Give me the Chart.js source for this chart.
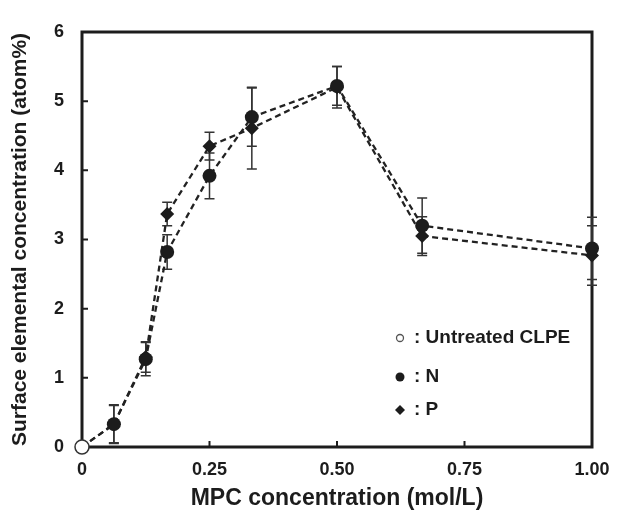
<!DOCTYPE html>
<html>
<head>
<meta charset="utf-8">
<script src="https://cdn.jsdelivr.net/npm/chart.js@4.4.1/dist/chart.umd.min.js"></script>
<style>
  body { margin: 0; background: #fff; }
  #wrap { width: 617px; height: 519px; }
</style>
</head>
<body>
<div id="wrap"><canvas id="chart" width="617" height="519"></canvas></div>
<script>
// Data
var untreatedX = [0];
var untreatedY = [0];
var mpcConc = [0.0625, 0.125, 0.167, 0.25, 0.333, 0.5, 0.667, 1.0];
var nValues = [0.33, 1.27, 2.82, 3.92, 4.77, 5.22, 3.20, 2.87];
var nErrors = [0.28, 0.24, 0.25, 0.33, 0.42, 0.28, 0.40, 0.45];
var pValues = [0.33, 1.30, 3.37, 4.35, 4.61, 5.20, 3.05, 2.77];
var pErrors = [0.27, 0.22, 0.17, 0.20, 0.59, 0.30, 0.28, 0.43];
var xTicks = [0, 0.25, 0.5, 0.75, 1.0];
var yTicks = [0, 1, 2, 3, 4, 5, 6];

var INK = '#1c1c1c';
var FONT = "'Liberation Sans', Arial, sans-serif";

function toPoints(xs, ys) {
    var pts = [];
    for (var i = 0; i < xs.length; i++) pts.push({ x: xs[i], y: ys[i] });
    return pts;
}

// series start from the untreated sample at the origin
var nData = toPoints(untreatedX.concat(mpcConc), untreatedY.concat(nValues));
var pData = toPoints(untreatedX.concat(mpcConc), untreatedY.concat(pValues));

function hideFirst(size) {
    return function(ctx) { return ctx.dataIndex === 0 ? 0 : size; };
}

// frame, inward ticks, error bars (under the marks) and legend
var extrasPlugin = {
    id: 'extras',
    beforeDatasetsDraw: function(chart) {
        var ctx = chart.ctx;
        var a = chart.chartArea;
        var xs = chart.scales.x, ys = chart.scales.y;
        ctx.save();
        ctx.strokeStyle = INK;
        ctx.lineWidth = 3;
        ctx.beginPath();
        ctx.moveTo(a.left, a.bottom);
        ctx.lineTo(a.left, a.top);
        ctx.lineTo(a.right, a.top);
        ctx.lineTo(a.right, a.bottom);
        ctx.closePath();
        ctx.stroke();
        ctx.lineWidth = 2;
        ctx.beginPath();
        xTicks.slice(1, -1).forEach(function(v) {
            var px = xs.getPixelForValue(v);
            ctx.moveTo(px, a.bottom); ctx.lineTo(px, a.bottom - 6);
        });
        yTicks.slice(1, -1).forEach(function(v) {
            var py = ys.getPixelForValue(v);
            ctx.moveTo(a.left, py); ctx.lineTo(a.left + 6, py);
        });
        ctx.stroke();

        ctx.strokeStyle = '#333';
        ctx.lineWidth = 1.5;
        [[nValues, nErrors], [pValues, pErrors]].forEach(function(s) {
            for (var i = 0; i < mpcConc.length; i++) {
                var px = xs.getPixelForValue(mpcConc[i]);
                var top = ys.getPixelForValue(s[0][i] + s[1][i]);
                var bot = ys.getPixelForValue(s[0][i] - s[1][i]);
                ctx.beginPath();
                ctx.moveTo(px, top); ctx.lineTo(px, bot);
                ctx.moveTo(px - 5, top); ctx.lineTo(px + 5, top);
                ctx.moveTo(px - 5, bot); ctx.lineTo(px + 5, bot);
                ctx.stroke();
            }
        });
        ctx.restore();
    },
    afterDraw: function(chart) {
        var ctx = chart.ctx;
        var a = chart.chartArea;
        var lx = a.left + 318;
        var rows = [a.top + 306, a.top + 345, a.top + 378];
        ctx.save();
        ctx.fillStyle = INK;
        ctx.font = 'bold 19px ' + FONT;
        ctx.textBaseline = 'middle';
        ctx.lineWidth = 1.3;
        ctx.strokeStyle = '#555';
        ctx.beginPath();
        ctx.arc(lx, rows[0], 3.5, 0, Math.PI * 2);
        ctx.stroke();
        ctx.beginPath();
        ctx.arc(lx, rows[1], 4.5, 0, Math.PI * 2);
        ctx.fill();
        ctx.beginPath();
        ctx.moveTo(lx, rows[2] - 5); ctx.lineTo(lx + 5, rows[2]);
        ctx.lineTo(lx, rows[2] + 5); ctx.lineTo(lx - 5, rows[2]);
        ctx.closePath();
        ctx.fill();
        ctx.fillText(': Untreated CLPE', lx + 14, rows[0]);
        ctx.fillText(': N', lx + 14, rows[1]);
        ctx.fillText(': P', lx + 14, rows[2]);
        ctx.restore();
    }
};

var chart = new Chart(document.getElementById('chart'), {
    type: 'scatter',
    data: {
        datasets: [{
            label: 'Untreated CLPE',
            data: toPoints(untreatedX, untreatedY),
            clip: false,
            pointStyle: 'circle',
            pointRadius: 7,
            pointBackgroundColor: '#fff',
            pointBorderColor: '#333',
            pointBorderWidth: 1.5
        }, {
            label: 'N',
            data: nData,
            clip: false,
            showLine: true,
            borderColor: '#222',
            borderWidth: 2.3,
            borderDash: [6, 4],
            pointStyle: 'circle',
            pointRadius: hideFirst(7),
            pointBackgroundColor: INK,
            pointBorderColor: INK,
            pointBorderWidth: 0
        }, {
            label: 'P',
            data: pData,
            clip: false,
            showLine: true,
            borderColor: '#222',
            borderWidth: 2.3,
            borderDash: [6, 4],
            pointStyle: 'rectRot',
            pointRadius: hideFirst(7),
            pointBackgroundColor: INK,
            pointBorderColor: INK,
            pointBorderWidth: 0
        }]
    },
    options: {
        responsive: false,
        animation: false,
        devicePixelRatio: 1,
        layout: { padding: { top: 32, right: 25, left: 0, bottom: 0 } },
        plugins: {
            legend: { display: false },
            tooltip: { enabled: false }
        },
        scales: {
            x: {
                type: 'linear',
                min: 0,
                max: 1,
                afterBuildTicks: function(scale) {
                    scale.ticks = xTicks.map(function(v) { return { value: v }; });
                },
                afterFit: function(scale) { scale.height = 72; },
                grid: { display: false },
                border: { display: false },
                ticks: {
                    color: INK,
                    padding: 4,
                    font: { family: FONT, size: 18, weight: 'bold' },
                    callback: function(v) { return v === 0 ? '0' : v.toFixed(2); }
                },
                title: {
                    display: true,
                    text: 'MPC concentration (mol/L)',
                    color: INK,
                    padding: { top: 0, bottom: 7 },
                    font: { family: FONT, size: 23, weight: 'bold' }
                }
            },
            y: {
                min: 0,
                max: 6,
                afterBuildTicks: function(scale) {
                    scale.ticks = yTicks.map(function(v) { return { value: v }; });
                },
                afterFit: function(scale) { scale.width = 82; },
                grid: { display: false },
                border: { display: false },
                ticks: {
                    color: INK,
                    padding: 10,
                    font: { family: FONT, size: 18, weight: 'bold' }
                },
                title: {
                    display: true,
                    text: 'Surface elemental concentration (atom%)',
                    color: INK,
                    padding: { top: 8, bottom: 0 },
                    font: { family: FONT, size: 21, weight: 'bold' }
                }
            }
        }
    },
    plugins: [extrasPlugin]
});
</script>
</body>
</html>
